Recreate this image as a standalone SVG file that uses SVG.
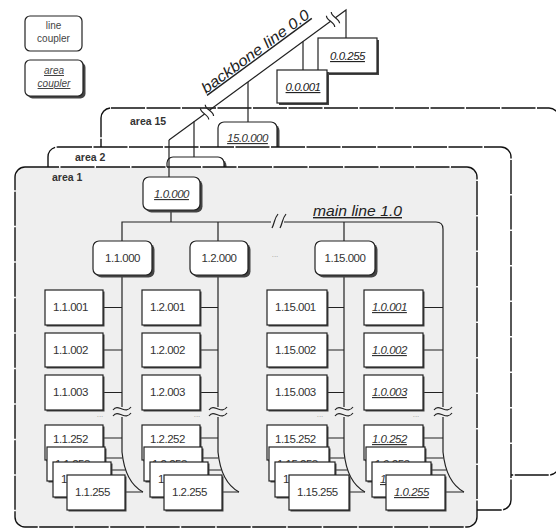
<svg xmlns="http://www.w3.org/2000/svg" width="556" height="529" viewBox="0 0 556 529">
<style>
.area{stroke:#111;stroke-width:1.4;stroke-dasharray:34 1.5}
.box{fill:#fff;stroke:#222;stroke-width:1.2}
.sh{fill:#444}
.ln{stroke:#222;stroke-width:1.2;fill:none}
.t{font-family:"Liberation Sans",Arial,sans-serif;font-size:11.5px;fill:#333;letter-spacing:-0.5px}
.c{text-anchor:middle}
.u{font-style:italic;text-decoration:underline}
.al{font-family:"Liberation Sans",Arial,sans-serif;font-size:10.5px;font-weight:bold;fill:#333}
.lg{font-family:"Liberation Sans",Arial,sans-serif;font-size:10px;fill:#444;text-anchor:middle}
.dots{font-family:"Liberation Sans",Arial,sans-serif;font-size:8px;fill:#999;text-anchor:middle}
</style>
<rect width="556" height="529" fill="#fff"/>

<!-- legend -->
<g id="legend-line-coupler">
<rect class="box" x="25" y="16" width="57" height="35" rx="5"/>
<text class="lg" x="53.5" y="29">line</text>
<text class="lg" x="53.5" y="42">coupler</text>
</g>
<g id="legend-area-coupler">
<rect class="sh" x="27.5" y="62.5" width="58" height="36" rx="5"/>
<rect class="box" x="25" y="60" width="58" height="36" rx="5"/>
<text class="lg u" x="54" y="74">area</text>
<text class="lg u" x="54" y="87">coupler</text>
</g>

<!-- area 15 -->
<g id="area15">
<rect class="area" x="101" y="108" width="458" height="367" rx="10" fill="#fff"/>
<text class="al" x="130" y="125">area 15</text>
</g>
<g id="n-15-0-000">
<rect class="sh" x="220.5" y="124.5" width="59" height="36" rx="6"/>
<rect class="box" x="218" y="122" width="59" height="36" rx="6"/>
<text class="t c u" x="247.5" y="142">15.0.000</text>
</g>

<!-- area 2 -->
<g id="area2">
<rect class="area" x="48" y="147" width="463" height="363" rx="10" fill="#fff"/>
<text class="al" x="75" y="161">area 2</text>
</g>
<g id="n-2-0-000">
<rect class="sh" x="169.5" y="159.5" width="57" height="30" rx="6"/>
<rect class="box" x="167" y="157" width="57" height="30" rx="6"/>
</g>

<!-- area 1 -->
<g id="area1">
<rect class="area" x="15" y="167" width="462" height="360" rx="10" fill="#efefef"/>
<text class="al" x="52" y="181">area 1</text>
</g>

<!-- connectors -->
<g id="connectors" class="ln">
<path d="M169,140 L204.6,113.9 M209.4,110.3 L330.6,21.3 M335.4,17.7 L346,10 V38"/>
<g transform="translate(207,112.1) rotate(-36.3)"><path d="M-3,-7 C-6,-3 0,3 -3,7 M3,-7 C0,-3 6,3 3,7"/></g>
<g transform="translate(333,19.5) rotate(-36.3)"><path d="M-3,-7 C-6,-3 0,3 -3,7 M3,-7 C0,-3 6,3 3,7"/></g>
<path d="M194,121.6 V157 M248,82 V122 M303,41.6 V70 M169,140 V177"/>
<path d="M171,210 V222 M122,241 V222 H271 M284,222 H436 Q443,222 443,229 V407 M218,222 V241 M344,222 V241"/>
<path d="M272,228 C275,222 274,219 278,214 M280,228 C283,222 282,219 286,214"/>
<path d="M122,275 V407 M122,417 V452 C124,472 130,485 143,492"/>
<path d="M218,275 V407 M218,417 V452 C220,472 226,485 239,492"/>
<path d="M344,275 V407 M344,417 V452 C346,472 352,485 365,492"/>
<path d="M443,417 V452 C445,472 451,485 464,492"/>
<path d="M113,410 C116,406 119,408 122,409 S128,411 131,407 M113,416 C116,412 119,414 122,415 S128,417 131,413"/>
<path d="M209,410 C212,406 215,408 218,409 S224,411 227,407 M209,416 C212,412 215,414 218,415 S224,417 227,413"/>
<path d="M335,410 C338,406 341,408 344,409 S350,411 353,407 M335,416 C338,412 341,414 344,415 S350,417 353,413"/>
<path d="M434,410 C437,406 440,408 443,409 S449,411 452,407 M434,416 C437,412 440,414 443,415 S449,417 452,413"/>
<path d="M103,307.5 H122 M103,350 H122 M103,392.5 H122 M103,438 H122 M105,458 H122.3 M111,470 H125.6 M125,492 H143"/>
<path d="M200,307.5 H218 M200,350 H218 M200,392.5 H218 M200,438 H218 M202,458 H218.3 M208,470 H221.6 M222,492 H239"/>
<path d="M327,307.5 H344 M327,350 H344 M327,392.5 H344 M327,438 H344 M329,458 H344.3 M335,470 H347.6 M349,492 H365"/>
<path d="M423,307.5 H443 M423,350 H443 M423,392.5 H443 M423,438 H443 M425,458 H443.3 M431,470 H446.6 M445,492 H464"/>
</g>

<!-- labels -->
<text class="t u" transform="translate(206,94) rotate(-36.3)" x="0" y="0" style="font-size:15px;fill:#222;letter-spacing:0" textLength="130" lengthAdjust="spacingAndGlyphs">backbone line 0.0</text>
<text class="t u" x="313" y="216" style="font-size:14px;fill:#222;letter-spacing:0" textLength="89" lengthAdjust="spacingAndGlyphs">main line 1.0</text>

<!-- backbone devices -->
<g id="n-0-0-255">
<rect class="sh" x="320" y="40" width="59" height="35"/>
<rect class="box" x="318" y="38" width="59" height="35"/>
<text class="t c u" x="347.5" y="60" style="fill:#222">0.0.255</text>
</g>
<g id="n-0-0-001">
<rect class="sh" x="279" y="72" width="50" height="33"/>
<rect class="box" x="277" y="70" width="50" height="33"/>
<text class="t c u" x="303" y="91" style="fill:#222">0.0.001</text>
</g>

<g id="n-1-0-000">
<rect class="sh" x="145.5" y="179.5" width="57" height="33" rx="6"/>
<rect class="box" x="143" y="177" width="57" height="33" rx="6"/>
<text class="t c u" x="171.5" y="198">1.0.000</text>
</g>

<g id="n-1-1-000">
<rect class="sh" x="95.5" y="243.5" width="59" height="34" rx="6"/>
<rect class="box" x="93" y="241" width="59" height="34" rx="6"/>
<text class="t c" x="122.5" y="262">1.1.000</text>
</g>
<g id="n-1-2-000">
<rect class="sh" x="192.5" y="243.5" width="58" height="34" rx="6"/>
<rect class="box" x="190" y="241" width="58" height="34" rx="6"/>
<text class="t c" x="219" y="262">1.2.000</text>
</g>
<g id="n-1-15-000">
<rect class="sh" x="317.5" y="243.5" width="60" height="34" rx="6"/>
<rect class="box" x="315" y="241" width="60" height="34" rx="6"/>
<text class="t c" x="345" y="262">1.15.000</text>
</g>
<text class="dots" x="275" y="257">...</text>

<g id="n-1-1-001"><rect class="sh" x="46.5" y="291.5" width="58" height="35"/><rect class="box" x="45" y="290" width="58" height="35"/><text class="t" x="53" y="311">1.1.001</text></g>
<g id="n-1-1-002"><rect class="sh" x="46.5" y="334.5" width="58" height="34"/><rect class="box" x="45" y="333" width="58" height="34"/><text class="t" x="53" y="354">1.1.002</text></g>
<g id="n-1-1-003"><rect class="sh" x="46.5" y="376.5" width="58" height="35"/><rect class="box" x="45" y="375" width="58" height="35"/><text class="t" x="53" y="396">1.1.003</text></g>
<text class="dots" x="100" y="417">...</text>
<g id="n-1-1-252"><rect class="sh" x="46.5" y="426.5" width="58" height="35"/><rect class="box" x="45" y="425" width="58" height="35"/><text class="t" x="53" y="443">1.1.252</text></g>
<g id="n-1-1-253"><rect class="sh" x="48.5" y="448.5" width="58" height="34"/><rect class="box" x="47" y="447" width="58" height="34"/><text class="t" x="55" y="468">1.1.253</text></g>
<g id="n-1-1-254"><rect class="sh" x="54.5" y="463.5" width="58" height="35"/><rect class="box" x="53" y="462" width="58" height="35"/><text class="t" x="61" y="483">1.1.254</text></g>
<g id="n-1-1-255"><rect class="sh" x="68.5" y="476.5" width="58" height="35"/><rect class="box" x="67" y="475" width="58" height="35"/><text class="t" x="75" y="496">1.1.255</text></g>

<g id="n-1-2-001"><rect class="sh" x="143.5" y="291.5" width="58" height="35"/><rect class="box" x="142" y="290" width="58" height="35"/><text class="t" x="150" y="311">1.2.001</text></g>
<g id="n-1-2-002"><rect class="sh" x="143.5" y="334.5" width="58" height="34"/><rect class="box" x="142" y="333" width="58" height="34"/><text class="t" x="150" y="354">1.2.002</text></g>
<g id="n-1-2-003"><rect class="sh" x="143.5" y="376.5" width="58" height="35"/><rect class="box" x="142" y="375" width="58" height="35"/><text class="t" x="150" y="396">1.2.003</text></g>
<text class="dots" x="197" y="417">...</text>
<g id="n-1-2-252"><rect class="sh" x="143.5" y="426.5" width="58" height="35"/><rect class="box" x="142" y="425" width="58" height="35"/><text class="t" x="150" y="443">1.2.252</text></g>
<g id="n-1-2-253"><rect class="sh" x="145.5" y="448.5" width="58" height="34"/><rect class="box" x="144" y="447" width="58" height="34"/><text class="t" x="152" y="468">1.2.253</text></g>
<g id="n-1-2-254"><rect class="sh" x="151.5" y="463.5" width="58" height="35"/><rect class="box" x="150" y="462" width="58" height="35"/><text class="t" x="158" y="483">1.2.254</text></g>
<g id="n-1-2-255"><rect class="sh" x="165.5" y="476.5" width="58" height="35"/><rect class="box" x="164" y="475" width="58" height="35"/><text class="t" x="172" y="496">1.2.255</text></g>

<g id="n-1-15-001"><rect class="sh" x="268.5" y="291.5" width="60" height="35"/><rect class="box" x="267" y="290" width="60" height="35"/><text class="t" x="275" y="311">1.15.001</text></g>
<g id="n-1-15-002"><rect class="sh" x="268.5" y="334.5" width="60" height="34"/><rect class="box" x="267" y="333" width="60" height="34"/><text class="t" x="275" y="354">1.15.002</text></g>
<g id="n-1-15-003"><rect class="sh" x="268.5" y="376.5" width="60" height="35"/><rect class="box" x="267" y="375" width="60" height="35"/><text class="t" x="275" y="396">1.15.003</text></g>
<text class="dots" x="320" y="417">...</text>
<g id="n-1-15-252"><rect class="sh" x="268.5" y="426.5" width="60" height="35"/><rect class="box" x="267" y="425" width="60" height="35"/><text class="t" x="275" y="443">1.15.252</text></g>
<g id="n-1-15-253"><rect class="sh" x="270.5" y="448.5" width="60" height="34"/><rect class="box" x="269" y="447" width="60" height="34"/><text class="t" x="277" y="468">1.15.253</text></g>
<g id="n-1-15-254"><rect class="sh" x="276.5" y="463.5" width="60" height="35"/><rect class="box" x="275" y="462" width="60" height="35"/><text class="t" x="283" y="483">1.15.254</text></g>
<g id="n-1-15-255"><rect class="sh" x="290.5" y="476.5" width="60" height="35"/><rect class="box" x="289" y="475" width="60" height="35"/><text class="t" x="297" y="496">1.15.255</text></g>

<g id="n-1-0-001"><rect class="sh" x="365.5" y="291.5" width="59" height="35"/><rect class="box" x="364" y="290" width="59" height="35"/><text class="t u" x="372" y="311">1.0.001</text></g>
<g id="n-1-0-002"><rect class="sh" x="365.5" y="334.5" width="59" height="34"/><rect class="box" x="364" y="333" width="59" height="34"/><text class="t u" x="372" y="354">1.0.002</text></g>
<g id="n-1-0-003"><rect class="sh" x="365.5" y="376.5" width="59" height="35"/><rect class="box" x="364" y="375" width="59" height="35"/><text class="t u" x="372" y="396">1.0.003</text></g>
<text class="dots" x="416" y="417">...</text>
<g id="n-1-0-252"><rect class="sh" x="365.5" y="426.5" width="59" height="35"/><rect class="box" x="364" y="425" width="59" height="35"/><text class="t u" x="372" y="443">1.0.252</text></g>
<g id="n-1-0-253"><rect class="sh" x="367.5" y="448.5" width="59" height="34"/><rect class="box" x="366" y="447" width="59" height="34"/><text class="t u" x="374" y="468">1.0.253</text></g>
<g id="n-1-0-254"><rect class="sh" x="373.5" y="463.5" width="59" height="35"/><rect class="box" x="372" y="462" width="59" height="35"/><text class="t u" x="380" y="483">1.0.254</text></g>
<g id="n-1-0-255"><rect class="sh" x="387.5" y="476.5" width="59" height="35"/><rect class="box" x="386" y="475" width="59" height="35"/><text class="t u" x="394" y="496">1.0.255</text></g>
</svg>
